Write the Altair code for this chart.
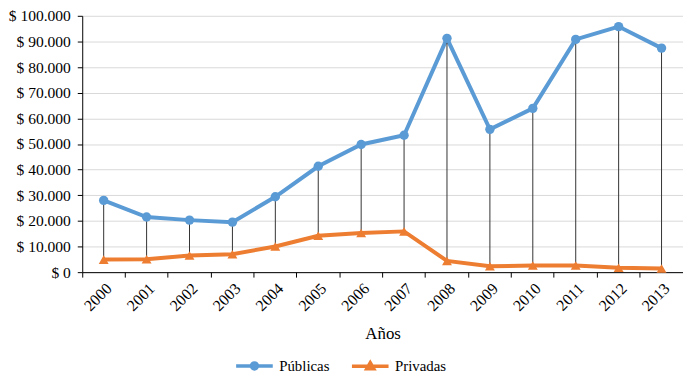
import altair as alt
import pandas as pd

years = [str(y) for y in range(2000, 2014)]
publicas = [28000, 21500, 20300, 19500, 29400, 41300, 49800, 53400, 91200, 55700, 63900, 90800, 95800, 87400]
privadas = [4900, 5000, 6500, 7000, 10000, 14200, 15300, 15900, 4400, 2300, 2600, 2600, 1700, 1400]
series = ["Públicas", "Privadas"]
colors = ["#5b9bd5", "#ed7d31"]
y_ticks = list(range(0, 100001, 10000))

wide = pd.DataFrame({"Año": years, "pub": publicas, "priv": privadas})
long = pd.DataFrame({
    "Año": years * 2,
    "Serie": [series[0]] * len(years) + [series[1]] * len(years),
    "Valor": publicas + privadas,
})

FONT = "'Liberation Serif', 'Times New Roman', serif"

x = alt.X("Año:N", sort=years, title="Años",
          scale=alt.Scale(paddingInner=0, paddingOuter=0),
          axis=alt.Axis(labelAngle=-45, bandPosition=0, grid=False, titlePadding=12, labelPadding=3))
y_scale = alt.Scale(domain=[0, 100000], nice=False)
y_axis = alt.Axis(values=y_ticks, grid=True, labelPadding=7,
                  labelExpr="'$ ' + replace(format(datum.value, ','), regexp(',', 'g'), '.')")
y = alt.Y("Valor:Q", title=None, scale=y_scale, axis=y_axis)

rules = alt.Chart(wide).mark_rule(color="#333333", strokeWidth=1).encode(
    x=x,
    y=alt.Y("pub:Q", title=None, scale=y_scale, axis=y_axis),
    y2="priv:Q",
)

def series_layers(name, col, shape, size):
    base = alt.Chart(long).transform_filter(alt.datum.Serie == name)
    ln = base.mark_line(strokeWidth=4, color=col).encode(x=x, y=y)
    pt = base.mark_point(filled=True, size=size, opacity=1, shape=shape, color=col).encode(x=x, y=y)
    return ln, pt

ln_pub, pt_pub = series_layers(series[0], colors[0], "circle", 90)
ln_priv, pt_priv = series_layers(series[1], colors[1], "triangle-up", 100)

leg_paths = [
    "M-1,0 H6.4 M2.1,0 A0.6,0.6 0 1,0 3.3,0 A0.6,0.6 0 1,0 2.1,0 Z",
    "M-1,0 H6.4 M2.7,-0.7 L3.4,0.5 L2.0,0.5 Z",
]

leg_kw = dict(title=None, orient="none", direction="horizontal", legendX=153, legendY=346,
              symbolOpacity=1, labelOffset=31, columnPadding=15, symbolSize=100,
              symbolStrokeWidth=3.5)

color_scale = alt.Scale(domain=series, range=colors)

legend_layer = alt.Chart(long).transform_filter("datum.Valor < 0").mark_point(
    filled=True, strokeWidth=3.5).encode(
    x=x, y=y,
    fill=alt.Fill("Serie:N", scale=color_scale, legend=alt.Legend(**leg_kw)),
    stroke=alt.Stroke("Serie:N", scale=color_scale, legend=alt.Legend(**leg_kw)),
    shape=alt.Shape("Serie:N", scale=alt.Scale(domain=series, range=leg_paths),
                    legend=alt.Legend(**leg_kw)),
)

chart = alt.layer(ln_pub, ln_priv, rules, pt_pub, pt_priv, legend_layer).properties(
    width=607, height=259,
    padding={"left": 75, "top": 6, "right": 0, "bottom": 100},
    autosize=alt.AutoSizeParams(type="none"),
    background="white",
).configure_view(stroke=None).configure_axis(
    labelFont=FONT, titleFont=FONT, labelColor="#000", titleColor="#000",
    domainColor="#000", tickColor="#000", tickSize=5, gridColor="#d9d9d9",
    titleFontWeight="normal",
).configure_axisX(labelFontSize=16, titleFontSize=17).configure_axisY(
    labelFontSize=15.7
).configure_legend(labelFont=FONT, labelFontSize=15, labelColor="#000")

chart.save("out.html", embed_options={"renderer": "svg", "actions": False})
